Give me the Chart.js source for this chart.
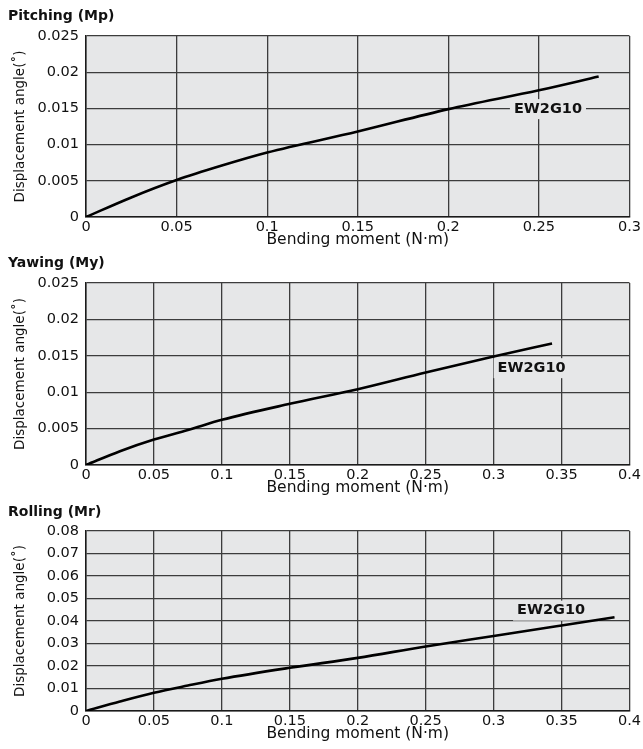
<!DOCTYPE html>
<html lang="en">
<head>
  <meta charset="UTF-8" />
  <title>EW2G10 Displacement angle</title>
  <script src="https://cdn.jsdelivr.net/npm/chart.js"></script>
  <style>
    body { margin: 0; background: #fff; width: 643px; height: 749px; position: relative; overflow: hidden; font-family: "DejaVu Sans", sans-serif; }
    .title { position: absolute; left: 8px; font-weight: bold; font-size: 14px; line-height: 16px; color: #111; z-index: 2; }
    canvas { position: absolute; left: 0; }
  </style>
</head>
<body>
  <div class="title" style="top:7px">Pitching (Mp)</div>
  <canvas id="pitchChart" width="643" height="250" style="top:0px"></canvas>

  <div class="title" style="top:254px">Yawing (My)</div>
  <canvas id="yawChart" width="643" height="248" style="top:250px"></canvas>

  <div class="title" style="top:503px">Rolling (Mr)</div>
  <canvas id="rollChart" width="643" height="246" style="top:498px"></canvas>

  <script>
    const modelName = 'EW2G10';
    const xTitle = 'Bending moment (N·m)';
    const yTitle = 'Displacement angle(˚)';

    // Pitching (Mp)
    const pitchMoment = [0, 0.025, 0.05, 0.075, 0.1, 0.15, 0.2, 0.25, 0.283];
    const pitchAngle  = [0, 0.0027, 0.0051, 0.0071, 0.0089, 0.0118, 0.0149, 0.0175, 0.0194];
    const pitchXTicks = [0, 0.05, 0.1, 0.15, 0.2, 0.25, 0.3];
    const pitchXLabels = ['0', '0.05', '0.1', '0.15', '0.2', '0.25', '0.3'];
    const pitchYTicks = [0, 0.005, 0.01, 0.015, 0.02, 0.025];
    const pitchYLabels = ['0', '0.005', '0.01', '0.015', '0.02', '0.025'];

    // Yawing (My)
    const yawMoment = [0, 0.025, 0.05, 0.075, 0.1, 0.15, 0.2, 0.25, 0.3, 0.343];
    const yawAngle  = [0, 0.0019, 0.0035, 0.0048, 0.0062, 0.0084, 0.0104, 0.0127, 0.0149, 0.0167];
    const yawXTicks = [0, 0.05, 0.1, 0.15, 0.2, 0.25, 0.3, 0.35, 0.4];
    const yawXLabels = ['0', '0.05', '0.1', '0.15', '0.2', '0.25', '0.3', '0.35', '0.4'];
    const yawYTicks = [0, 0.005, 0.01, 0.015, 0.02, 0.025];
    const yawYLabels = ['0', '0.005', '0.01', '0.015', '0.02', '0.025'];

    // Rolling (Mr)
    const rollMoment = [0, 0.025, 0.05, 0.075, 0.1, 0.15, 0.2, 0.25, 0.3, 0.35, 0.389];
    const rollAngle  = [0, 0.0042, 0.0081, 0.0113, 0.0143, 0.0192, 0.0236, 0.0287, 0.0333, 0.0380, 0.0417];
    const rollXTicks = [0, 0.05, 0.1, 0.15, 0.2, 0.25, 0.3, 0.35, 0.4];
    const rollXLabels = ['0', '0.05', '0.1', '0.15', '0.2', '0.25', '0.3', '0.35', '0.4'];
    const rollYTicks = [0, 0.01, 0.02, 0.03, 0.04, 0.05, 0.06, 0.07, 0.08];
    const rollYLabels = ['0', '0.01', '0.02', '0.03', '0.04', '0.05', '0.06', '0.07', '0.08'];

    const FONT = '"DejaVu Sans", sans-serif';
    const PLOT_BG = '#e6e7e8';
    Chart.defaults.font.family = FONT;
    Chart.defaults.color = '#111';

    // grey plot background
    const plotBg = {
      id: 'plotBg',
      beforeDraw(chart) {
        const { ctx, chartArea: a } = chart;
        ctx.save();
        ctx.fillStyle = PLOT_BG;
        ctx.fillRect(a.left, a.top, a.width, a.height);
        ctx.restore();
      }
    };

    // model name, boxed so it hides the grid behind it
    const curveLabel = {
      id: 'curveLabel',
      beforeDatasetsDraw(chart, args, opts) {
        const { ctx } = chart;
        const x = chart.scales.x.getPixelForValue(opts.x);
        const y = chart.scales.y.getPixelForValue(opts.y);
        ctx.save();
        ctx.font = 'bold 14.5px ' + FONT;
        const w = ctx.measureText(opts.text).width;
        ctx.fillStyle = PLOT_BG;
        ctx.fillRect(x - w / 2 - 4, y - 10, w + 8, 20);
        ctx.fillStyle = '#111';
        ctx.textAlign = 'center';
        ctx.textBaseline = 'middle';
        ctx.fillText(opts.text, x, y);
        ctx.restore();
      }
    };

    function makeChart(id, moments, angles, xTicks, xLabels, yTicks, yLabels, padTop, label) {
      const ctx = document.getElementById(id).getContext('2d');
      return new Chart(ctx, {
        type: 'line',
        data: {
          datasets: [{
            label: modelName,
            data: moments.map((m, i) => ({ x: m, y: angles[i] })),
            borderColor: '#000',
            borderWidth: 2.6,
            pointRadius: 0,
            fill: false,
            cubicInterpolationMode: 'monotone'
          }]
        },
        options: {
          responsive: false,
          animation: false,
          layout: { padding: { top: padTop, right: 13, bottom: 0, left: 0 } },
          plugins: {
            legend: { display: false },
            tooltip: { enabled: false },
            curveLabel: label
          },
          scales: {
            x: {
              type: 'linear',
              min: xTicks[0],
              max: xTicks[xTicks.length - 1],
              afterBuildTicks: s => { s.ticks = xTicks.map(v => ({ value: v })); },
              afterFit: s => { s.height = 33; },
              grid: { color: '#3c3c3c', lineWidth: 1.3, drawTicks: false },
              border: { color: '#1a1a1a', width: 1.5 },
              ticks: {
                padding: 2, maxRotation: 0, autoSkip: false,
                font: { size: 14.5 },
                callback: (v, i) => xLabels[i]
              },
              title: { display: true, text: xTitle, font: { size: 15.5 }, padding: { top: 0, bottom: 1 } }
            },
            y: {
              type: 'linear',
              min: yTicks[0],
              max: yTicks[yTicks.length - 1],
              afterBuildTicks: s => { s.ticks = yTicks.map(v => ({ value: v })); },
              afterFit: s => { s.width = 86; },
              grid: { color: '#3c3c3c', lineWidth: 1.3, drawTicks: false },
              border: { color: '#1a1a1a', width: 1.5 },
              ticks: {
                padding: 7,
                font: { size: 14.5 },
                callback: (v, i) => yLabels[i]
              },
              title: { display: true, text: yTitle, font: { size: 13.5 }, padding: { top: 12, bottom: 0 } }
            }
          }
        },
        plugins: [plotBg, curveLabel]
      });
    }

    makeChart('pitchChart', pitchMoment, pitchAngle, pitchXTicks, pitchXLabels, pitchYTicks, pitchYLabels, 36,
      { text: modelName, x: 0.255, y: 0.0149 });
    makeChart('yawChart', yawMoment, yawAngle, yawXTicks, yawXLabels, yawYTicks, yawYLabels, 33,
      { text: modelName, x: 0.328, y: 0.0133 });
    makeChart('rollChart', rollMoment, rollAngle, rollXTicks, rollXLabels, rollYTicks, rollYLabels, 33,
      { text: modelName, x: 0.3423, y: 0.0446 });
  </script>
</body>
</html>
